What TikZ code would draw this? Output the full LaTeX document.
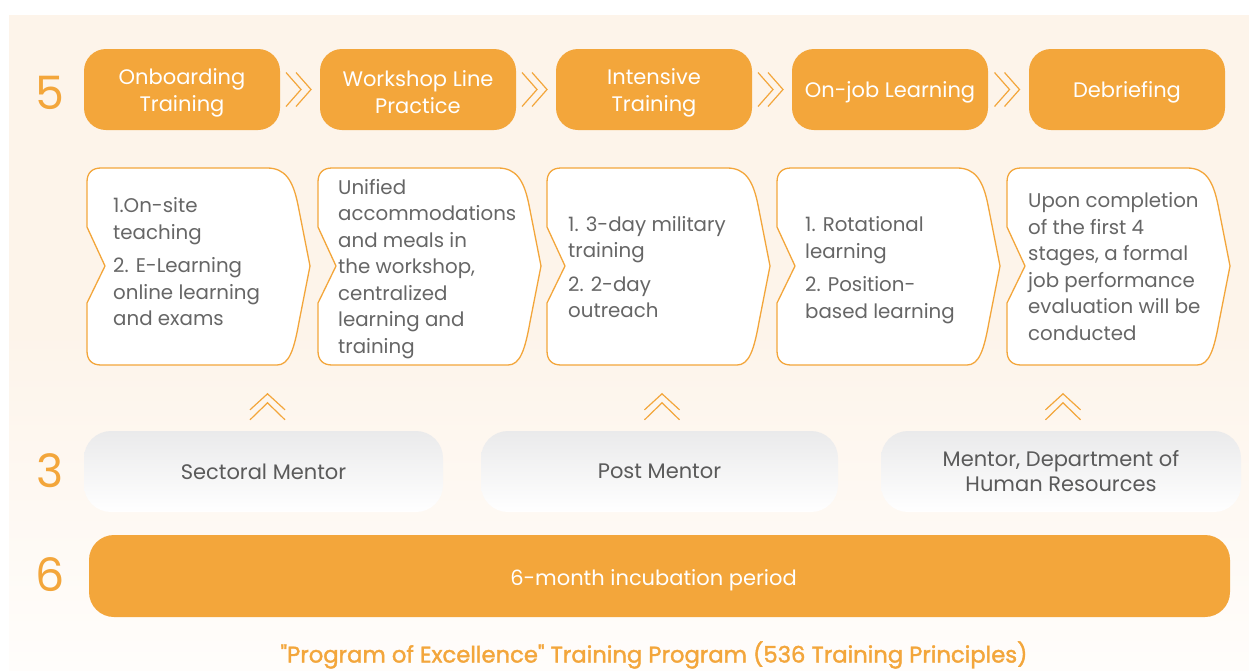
\documentclass[tikz,border=0pt]{standalone}
\usepackage{fontspec}
\setmainfont{Poppins}
\newfontfamily\titlefont[FakeBold=1.6]{Poppins}
\usetikzlibrary{calc}
\definecolor{brand}{HTML}{F3A63B}
\definecolor{cream}{HTML}{FDF4EA}
\definecolor{creamlow}{HTML}{FFFDFB}
\definecolor{dgray}{HTML}{666666}
\definecolor{mgray}{HTML}{EAEAEB}
\definecolor{mtext}{HTML}{5A5A5A}
\newcommand\fs[2]{\fontsize{#1}{#2}\selectfont}
\newcommand\descshape[1]{%
  \draw[descbox] (#1+14,168) -- (#1+180,168)
    .. controls (#1+198,168) and (#1+206,180) .. (#1+211,205)
    -- (#1+223,266) -- (#1+212,322)
    .. controls (#1+207,350) and (#1+202,365) .. (#1+190,365)
    -- (#1+14,365) .. controls (#1+5,365) and (#1,360) .. (#1,351)
    -- (#1,303) -- (#1+18,266) -- (#1,227) -- (#1,182)
    .. controls (#1,173) and (#1+5,168) .. (#1+14,168) -- cycle;}
\tikzset{
  stage/.style={fill=brand, rounded corners=22pt, minimum width=196pt, minimum height=81pt,
    inner sep=0pt},
  stagetext/.style={text=white, align=center, font=\fs{21}{27}, inner sep=0pt},
  mentor/.style={rounded corners=27pt, minimum height=81pt, top color=mgray, bottom color=white,
    text=mtext, align=center, font=\fs{21}{25}, inner sep=0pt},
  desc/.style={text=dgray, align=left, anchor=west, font=\fs{19.8}{26.5}, inner sep=0pt},
  descbox/.style={draw=brand, fill=white, line width=1.3pt},
  num/.style={text=brand, font=\fs{46}{46}, inner sep=0pt},
  chev/.style={draw=brand, line width=1.2pt},
  pics/fwd/.style={code={
    \draw[chev] (-13,-17) -- (2,0) -- (-13,17);
    \draw[chev] (-3,-17) -- (12,0) -- (-3,17);}},
  pics/upc/.style={code={
    \draw[chev] (-17.5,8) -- (0,-8) -- (17.5,8);
    \draw[chev] (-17.5,18) -- (0,1) -- (17.5,18);}}
}
\begin{document}
\begin{tikzpicture}[x=1pt,y=-1pt]
\useasboundingbox (0,0) rectangle (1249,670);
% background panel
\fill[cream] (9,15) rectangle (1249,670);
\shade[top color=cream, bottom color=creamlow] (9,330) rectangle (1249,670);

% row numbers
\node[num] (n5) at (50,93) {5};
\node[num] (n3) at (50,471) {3};
\node[num] (n6) at (50,575) {6};

% stages
\node[stage] (s1) at (182,89.5) {};
\node[stage] (s2) at (418,89.5) {};
\node[stage] (s3) at (654,89.5) {};
\node[stage] (s4) at (890,89.5) {};
\node[stage] (s5) at (1127,89.5) {};
\node[stagetext] (t1) at ($(s1.center)+(0,3)$) {Onboarding\\Training};
\node[stagetext] (t2) at ($(s2.center)+(0,3)$) {Workshop Line\\Practice};
\node[stagetext] (t3) at ($(s3.center)+(0,3)$) {Intensive\\Training};
\node[stagetext] (t4) at ($(s4.center)+(0,3)$) {On-job Learning};
\node[stagetext] (t5) at ($(s5.center)+(0,3)$) {Debriefing};

\foreach \a/\b in {s1/s2,s2/s3,s3/s4,s4/s5}
  \pic at ($(\a.east)!0.5!(\b.west)+(-1,0)$) {fwd};

% description boxes
\descshape{87}
\descshape{318}
\descshape{547}
\descshape{777}
\descshape{1007}

\node[desc] (d1) at (113,262) {1.On-site\\teaching\\[7pt]2. E-Learning\\online learning\\and exams};
\node[desc] (d2) at (338,269) {Unified\\accommodations\\and meals in\\the workshop,\\centralized\\learning and\\training};
\node[desc] (d3) at (568,267) {1. 3-day military\\training\\[7pt]2. 2-day\\outreach};
\node[desc] (d4) at (805,270) {1. Rotational\\learning\\[7pt]2. Position-\\based learning};
\node[desc] (d5) at (1028,266.5) {Upon completion\\of the first 4\\stages, a formal\\job performance\\evaluation will be\\conducted};

% mentors
\node[mentor, minimum width=359pt] (m1) at (263.5,471.5) {Sectoral Mentor};
\node[mentor, minimum width=357pt] (m2) at (659.5,471.5) {Post Mentor};
\node[mentor, minimum width=360pt] (m3) at (1061,471.5) {Mentor, Department of\\Human Resources};

\pic at ($(m1.north)+(4,-29)$) {upc};
\pic at ($(m2.north)+(2.5,-29)$) {upc};
\pic at ($(m3.north)+(2,-29)$) {upc};

% incubation bar
\node[fill=brand, rounded corners=25pt, minimum width=1141pt, minimum height=82pt,
  inner sep=0pt] (bar) at (659.5,576) {};
\node[text=white, font=\fs{21}{25}, inner sep=0pt] (bartext) at ($(bar.center)+(-6,4)$) {6-month incubation period};

% title
\node[text=brand, font=\titlefont\fs{22.7}{26}, inner sep=0pt] (title) at (654,655)
  {"Program of Excellence" Training Program (536 Training Principles)};
\end{tikzpicture}
\end{document}
